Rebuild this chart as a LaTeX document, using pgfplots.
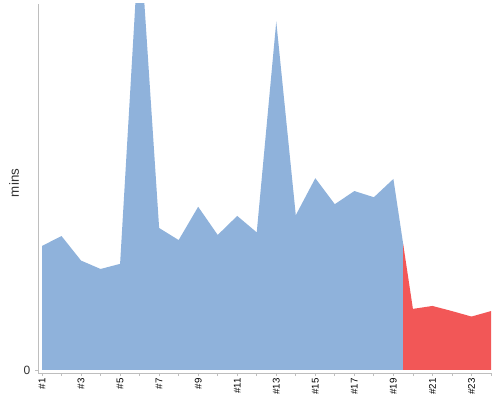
\documentclass[border=0pt]{standalone}
\usepackage{pgfplots}
\pgfplotsset{compat=1.18}
\usepackage{fontspec}
\setmainfont{Liberation Sans}

\definecolor{areablue}{RGB}{143,178,219}
\definecolor{areared}{RGB}{242,87,87}
\definecolor{axisgray}{RGB}{190,190,190}
\definecolor{labelgray}{RGB}{50,50,50}

\begin{document}
\begin{tikzpicture}
\begin{axis}[
  scale only axis,
  width=339.75pt, height=276.75pt,
  at={(0,0)}, anchor=south west,
  xmin=0.795, xmax=24,
  ymin=-0.82, ymax=100,
  axis lines*=left,
  axis line style={draw=axisgray, line width=0.75pt, -},
  tick align=outside,
  major tick length=2.25pt,
  tick style={draw=axisgray, line width=0.6pt},
  xtick={1,...,24},
  xticklabels={\#1,,\#3,,\#5,,\#7,,\#9,,\#11,,\#13,,\#15,,\#17,,\#19,,\#21,,\#23,},
  x tick label style={rotate=90, anchor=east, font=\fontsize{7.3}{8}\selectfont, text=black, inner sep=1.5pt},
  ytick={0},
  y tick label style={font=\fontsize{9}{10}\selectfont, text=labelgray},
  /pgf/number format/assume math mode=true,
  ylabel={mins},
  ylabel style={at={(axis description cs:-0.053,0.515)}, anchor=center, font=\fontsize{10}{12}\selectfont, text=labelgray},
]
% measured part
\addplot[fill=areablue, draw=none] coordinates {
  (1,33.9) (2,36.6) (3,29.9) (4,27.6) (5,29.0) (6,120) (7,38.8) (8,35.5)
  (9,44.6) (10,36.9) (11,42.1) (12,37.6) (13,95.2) (14,42.3) (15,52.4)
  (16,45.3) (17,48.9) (18,47.2) (19,52.2) (19.5,34.45)
} \closedcycle;
% forecast part
\addplot[fill=areared, draw=none] coordinates {
  (19.5,34.45) (20,16.7) (21,17.5) (22,16.1) (23,14.6) (24,16.1)
} \closedcycle;
\end{axis}
\pgfresetboundingbox
\path[use as bounding box] (-28.5pt,-20.25pt) rectangle (346.5pt,279.75pt);
\end{tikzpicture}
\end{document}
